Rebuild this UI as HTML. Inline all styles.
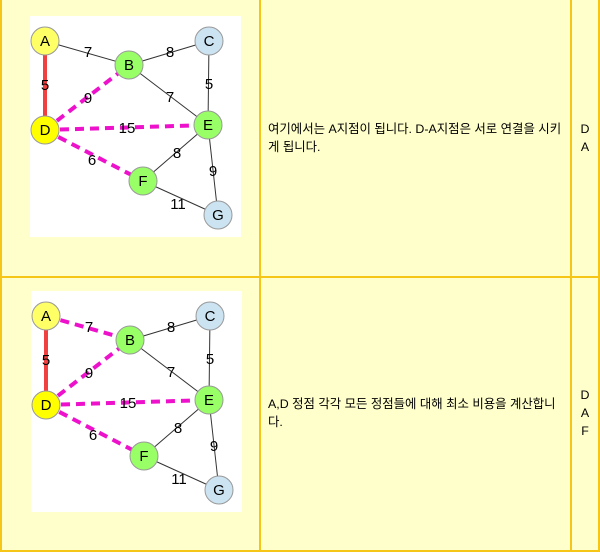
<!DOCTYPE html>
<html><head><meta charset="utf-8">
<style>
html,body{margin:0;padding:0;background:#fff;}
body{width:600px;height:552px;position:relative;overflow:hidden;font-family:"Liberation Sans","Noto Sans CJK KR",sans-serif;}
#tbl{position:absolute;left:0;top:0;width:600px;height:552px;background:#ffffcc;}
.v{position:absolute;background:#f5c518;width:2px;}
.h{position:absolute;background:#f5c518;height:2px;}
.txt{position:absolute;font-size:12.4px;line-height:18px;color:#000;word-break:break-all;}
.col3{position:absolute;left:572px;width:26px;text-align:center;font-size:12.4px;line-height:18px;}
svg{position:absolute;left:0;top:0;}
</style></head><body>
<div id="tbl">
  <div class="v" style="left:0;top:0;height:552px"></div>
  <div class="v" style="left:259px;top:0;height:552px"></div>
  <div class="v" style="left:570px;top:0;height:552px"></div>
  <div class="v" style="left:598px;top:0;height:552px"></div>
  <div class="h" style="left:0;top:276px;width:600px"></div>
  <div class="h" style="left:0;top:550px;width:600px"></div>

  <div class="txt" style="left:268px;top:120px;width:296px">여기에서는 A지점이 됩니다. D-A지점은 서로 연결을 시키게 됩니다.</div>
  <div class="col3" style="top:120px">D<br>A</div>

  <div class="txt" style="left:268px;top:395px;width:296px">A,D 정점 각각 모든 정점들에 대해 최소 비용을 계산합니다.</div>
  <div class="col3" style="top:386px">D<br>A<br>F</div>
</div>
<svg id="svg" width="600" height="552" xmlns="http://www.w3.org/2000/svg"></svg>
<script>
const nodeNames=["A","B","C","D","E","F","G"];
const nodeX=[45,129,209,45,208,143,218];
const nodeY=[41,65,41,130,125,181,215];
const nodeFill1=["#ffff66","#99ff66","#cce4f2","#ffff00","#99ff66","#99ff66","#cce4f2"];
const edgeFrom=["A","A","B","C","D","B","D","E","D","E","F"];
const edgeTo=["B","D","C","E","B","E","E","F","F","G","G"];
const edgeWeights=[7,5,8,5,9,7,15,8,6,9,11];
const labelX=[88,45,170,209,88,170,127,177,92,213,178];
const labelY=[52,85,52,84,98,97,128,153,160,171,204];
const style1=["n","r","n","n","m","n","m","n","m","n","n"];
const style2=["m","r","n","n","m","n","m","n","m","n","n"];
const NS="http://www.w3.org/2000/svg";
const svg=document.getElementById('svg');
function mk(t,a,p){const e=document.createElementNS(NS,t);for(const k in a)e.setAttribute(k,a[k]);p.appendChild(e);return e;}
function drawGraph(ox,oy,styles,idx){
  const g=mk('g',{transform:`translate(${ox},${oy})`},svg);
  
  
  const bg=mk('rect',{x:30,y:16,width:211,height:221,fill:'#fff'},g);
  
  
  edgeFrom.forEach((f,i)=>{
    const a=nodeNames.indexOf(f),b=nodeNames.indexOf(edgeTo[i]);
    const s=styles[i];
    const at={x1:nodeX[a],y1:nodeY[a],x2:nodeX[b],y2:nodeY[b]};
    if(s==='n'){at.stroke='#333';at['stroke-width']=1;}
    else if(s==='r'){at.stroke='#f04040';at['stroke-width']=4;}
    else {at.stroke='#ee11cc';at['stroke-width']=4;at['stroke-dasharray']='9,6';}
    const l=mk('line',at,g);
    
    
  });
  edgeWeights.forEach((w,i)=>{
    const t=mk('text',{x:labelX[i],y:labelY[i]+5,'font-size':15,'text-anchor':'middle',fill:'#000','font-family':'Liberation Sans, sans-serif'},g);
    t.textContent=w;
    
    
  });
  nodeNames.forEach((n,i)=>{
    const c=mk('circle',{cx:nodeX[i],cy:nodeY[i],r:14,fill:nodeFill1[i],stroke:'#999','stroke-width':1},g);
    
    
    const t=mk('text',{x:nodeX[i],y:nodeY[i]+5,'font-size':15,'text-anchor':'middle',fill:'#000','font-family':'Liberation Sans, sans-serif'},g);
    t.textContent=n;
    
    
  });
}
drawGraph(0,0,style1,1);
drawGraph(1,275,style2,2);
</script>
</body></html>
